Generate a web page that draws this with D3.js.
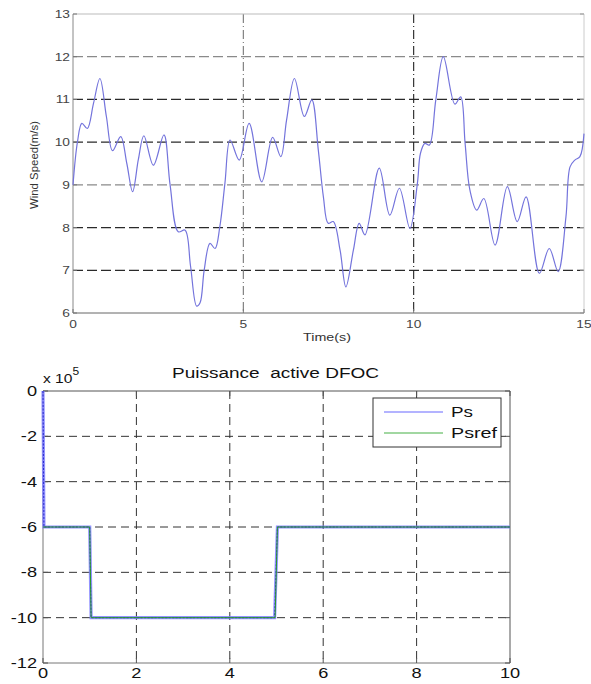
<!DOCTYPE html>
<html><head><meta charset="utf-8">
<script src="https://cdn.jsdelivr.net/npm/d3@7/dist/d3.min.js"></script>
<style>body{margin:0;background:#fff}svg{display:block;font-family:"Liberation Sans",Arial,sans-serif}</style>
</head><body>
<script>
// ---- Wind speed (top chart) ----
const windTime  = [0,0.13,0.26,0.42,0.60,0.79,0.98,1.16,1.40,1.58,1.75,1.92,2.08,2.36,2.67,2.85,3.09,3.29,3.45,3.63,3.73,3.85,4.02,4.17,4.31,4.46,4.61,4.88,5.17,5.54,5.86,6.10,6.27,6.50,6.79,7.01,7.20,7.35,7.49,7.64,7.84,8.01,8.23,8.40,8.57,8.99,9.30,9.58,9.89,10.11,10.20,10.33,10.46,10.65,10.87,11.21,11.38,11.51,11.65,11.85,12.06,12.39,12.75,13.04,13.30,13.69,13.98,14.24,14.47,14.59,14.73,14.88,15.0];
const windSpeed = [9.0,10.0,10.44,10.32,10.9,11.49,10.6,9.80,10.13,9.5,8.84,9.6,10.15,9.46,10.17,9.0,7.90,7.94,7.1,6.16,6.24,7.0,7.63,7.51,8.02,9.04,10.05,9.58,10.44,9.07,10.11,9.66,10.52,11.49,10.60,10.99,9.82,8.72,8.10,8.14,7.47,6.61,7.47,8.10,7.83,9.39,8.29,8.92,7.98,9.04,9.74,9.97,9.93,10.99,12.0,10.89,11.06,9.97,8.88,8.41,8.68,7.59,8.96,8.14,8.72,6.93,7.51,6.97,8.25,9.42,9.58,9.66,10.2];
const windXTicks = [0,5,10,15];
const windYTicks = [6,7,8,9,10,11,12,13];

// ---- Active power (bottom chart) ----
const psTime     = [0,0.02,1.0,1.03,4.96,5.02,10];
const psValue    = [0,-6,-6,-10,-10,-6,-6];
const psrefTime  = [0,1.0,1.03,4.97,5.02,10];
const psrefValue = [-6,-6,-10,-10,-6,-6];
const powXTicks  = [0,2,4,6,8,10];
const powYTicks  = [0,-2,-4,-6,-8,-10,-12];
const legendLabels = ["Ps","Psref"];

const svg = d3.select("body").append("svg").attr("width",591).attr("height",684);
const place = (sx, fx, fy) => (d => `translate(${fx(d)},${fy(d)}) scale(${sx},1)`);

// ===== Top chart =====
const x1 = d3.scaleLinear().domain([0,15]).range([73,584]);
const y1 = d3.scaleLinear().domain([6,13]).range([313,14]);
const g1 = svg.append("g");
const darkY = new Set([11,10,8,7]);
g1.selectAll(".hg").data(windYTicks.filter(d=>d>6&&d<13)).join("line")
  .attr("x1",x1(0)).attr("x2",x1(15)).attr("y1",d=>y1(d)).attr("y2",d=>y1(d))
  .attr("stroke",d=>darkY.has(d)?"#2a2a2a":"#8a8a8a").attr("stroke-width",1.2).attr("stroke-dasharray","10,4");
g1.selectAll(".vg").data(windXTicks.filter(d=>d>0&&d<15)).join("line")
  .attr("y1",y1(13)).attr("y2",y1(6)).attr("x1",d=>x1(d)).attr("x2",d=>x1(d))
  .attr("stroke",d=>d===10?"#222":"#777").attr("stroke-width",1.1).attr("stroke-dasharray","9,3,1,3");
g1.append("line").attr("x1",73).attr("x2",584).attr("y1",14).attr("y2",14).attr("stroke","#bbb").attr("stroke-width",1.2);
g1.append("line").attr("x1",73).attr("x2",73).attr("y1",14).attr("y2",313).attr("stroke","#888");
g1.append("line").attr("x1",73).attr("x2",584).attr("y1",313).attr("y2",313).attr("stroke","#666");
g1.append("line").attr("x1",584).attr("x2",584).attr("y1",14).attr("y2",313).attr("stroke","#ccc");
g1.selectAll(".yt").data(windYTicks).join("line").attr("x1",73).attr("x2",77).attr("y1",d=>y1(d)).attr("y2",d=>y1(d)).attr("stroke","#777");
g1.selectAll(".yt2").data(windYTicks).join("line").attr("x1",580).attr("x2",584).attr("y1",d=>y1(d)).attr("y2",d=>y1(d)).attr("stroke","#999");
g1.selectAll(".xt").data(windXTicks).join("line").attr("x1",d=>x1(d)).attr("x2",d=>x1(d)).attr("y1",313).attr("y2",309).attr("stroke","#777");
g1.selectAll(".yl").data(windYTicks).join("text").attr("transform",place(1.25,()=>70,d=>y1(d)+4))
  .attr("text-anchor","end").attr("font-size",11).attr("fill","#444").text(d=>d);
g1.selectAll(".xl").data(windXTicks).join("text").attr("transform",place(1.25,d=>x1(d),()=>328))
  .attr("text-anchor","middle").attr("font-size",11).attr("fill","#444").text(d=>d);
g1.append("text").attr("transform","translate(327,341) scale(1.3,1)").attr("text-anchor","middle").attr("font-size",11).attr("fill","#333").text("Time(s)");
g1.append("text").attr("transform","translate(38,165) rotate(-90)").attr("text-anchor","middle")
  .attr("font-size",10).attr("fill","#333").attr("textLength",88).attr("lengthAdjust","spacingAndGlyphs").text("Wind Speed(m/s)");
const windLine = d3.line().x(d=>x1(d[0])).y(d=>y1(d[1])).curve(d3.curveCatmullRom.alpha(0.5));
g1.append("path").datum(windTime.map((t,i)=>[t,windSpeed[i]])).attr("d",windLine)
  .attr("fill","none").attr("stroke","#7474dc").attr("stroke-width",1.2);

// ===== Bottom chart =====
const x2 = d3.scaleLinear().domain([0,10]).range([43,510]);
const y2 = d3.scaleLinear().domain([-12,0]).range([663,391]);
const g2 = svg.append("g");
g2.selectAll(".hg").data(powYTicks.filter(d=>d<0&&d>-12)).join("line")
  .attr("x1",x2(0)).attr("x2",x2(10)).attr("y1",d=>y2(d)).attr("y2",d=>y2(d))
  .attr("stroke","#333").attr("stroke-dasharray","8,5");
g2.selectAll(".vg").data(powXTicks.filter(d=>d>0&&d<10)).join("line")
  .attr("y1",y2(0)).attr("y2",y2(-12)).attr("x1",d=>x2(d)).attr("x2",d=>x2(d))
  .attr("stroke","#333").attr("stroke-dasharray","8,5");
g2.append("line").attr("x1",43).attr("x2",510).attr("y1",391).attr("y2",391).attr("stroke","#555");
g2.append("line").attr("x1",510).attr("x2",510).attr("y1",391).attr("y2",663).attr("stroke","#555");
g2.append("line").attr("x1",43).attr("x2",510).attr("y1",663).attr("y2",663).attr("stroke","#777");
g2.append("line").attr("x1",43).attr("x2",43).attr("y1",391).attr("y2",663).attr("stroke","#777");
g2.selectAll(".yt").data(powYTicks).join("line").attr("x1",43).attr("x2",48).attr("y1",d=>y2(d)).attr("y2",d=>y2(d)).attr("stroke","#555");
g2.selectAll(".yt2").data(powYTicks).join("line").attr("x1",505).attr("x2",510).attr("y1",d=>y2(d)).attr("y2",d=>y2(d)).attr("stroke","#555");
g2.selectAll(".xt").data(powXTicks).join("line").attr("x1",d=>x2(d)).attr("x2",d=>x2(d)).attr("y1",663).attr("y2",658).attr("stroke","#555");
g2.selectAll(".xt2").data(powXTicks).join("line").attr("x1",d=>x2(d)).attr("x2",d=>x2(d)).attr("y1",391).attr("y2",396).attr("stroke","#555");
g2.selectAll(".yl").data(powYTicks).join("text").attr("transform",place(1.3,()=>37,d=>y2(d)+5))
  .attr("text-anchor","end").attr("font-size",14).attr("fill","#111").text(d=>d);
g2.selectAll(".xl").data(powXTicks).join("text").attr("transform",place(1.3,d=>x2(d),()=>678))
  .attr("text-anchor","middle").attr("font-size",14).attr("fill","#111").text(d=>d);
const ex = g2.append("text").attr("transform","translate(43,383) scale(1.2,1)").attr("font-size",13).attr("fill","#111");
ex.append("tspan").text("x 10");
ex.append("tspan").attr("dy",-8).attr("font-size",10).text("5");
g2.append("text").attr("x",172).attr("y",378).attr("font-size",14)
  .attr("fill","#111").attr("textLength",207).attr("lengthAdjust","spacingAndGlyphs").attr("xml:space","preserve").text("Puissance  active DFOC");
// series
const pline = d3.line().x(d=>x2(d[0])).y(d=>y2(d[1]));
g2.append("path").datum(psTime.map((t,i)=>[t,psValue[i]])).attr("d",pline)
  .attr("fill","none").attr("stroke","#8080ff").attr("stroke-width",3.2).attr("stroke-opacity",0.85);
g2.append("path").datum(psTime.map((t,i)=>[t,psValue[i]])).attr("d",pline)
  .attr("fill","none").attr("stroke","#2a2ad0").attr("stroke-width",1).attr("stroke-dasharray","2,1.5");
g2.append("path").datum(psrefTime.map((t,i)=>[t,psrefValue[i]])).attr("d",pline)
  .attr("fill","none").attr("stroke","#2a9a2a").attr("stroke-width",1);
// legend
const lg = g2.append("g");
lg.append("rect").attr("x",373).attr("y",398).attr("width",128).attr("height",49).attr("fill","#fff").attr("stroke","#333");
const lcol = ["#9a9aff","#44b044"];
const lw = [22,46];
legendLabels.forEach((l,i)=>{
  const yy = 412 + i*21;
  lg.append("line").attr("x1",384).attr("x2",443).attr("y1",yy).attr("y2",yy).attr("stroke",lcol[i]).attr("stroke-width",i===0?1.6:1.1);
  lg.append("text").attr("x",451).attr("y",yy+5).attr("font-size",14).attr("fill","#111")
    .attr("textLength",lw[i]).attr("lengthAdjust","spacingAndGlyphs").text(l);
});
</script>
</body></html>
